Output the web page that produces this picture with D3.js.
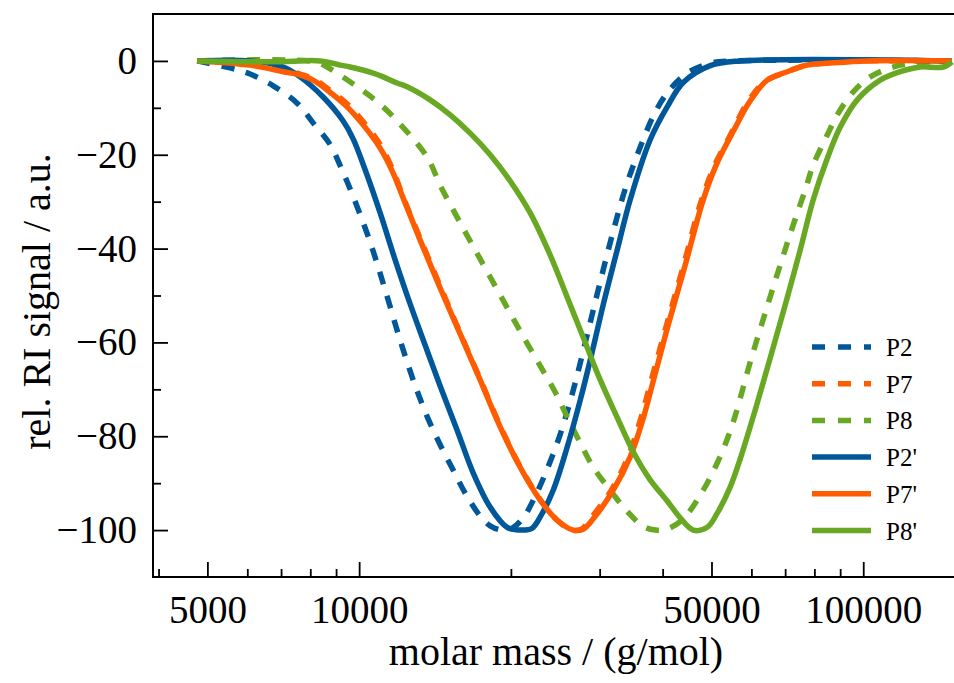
<!DOCTYPE html>
<html>
<head>
<meta charset="utf-8">
<script src="https://cdn.jsdelivr.net/npm/d3@7/dist/d3.min.js"></script>
<style>
  html, body { margin: 0; padding: 0; background: #fff; }
  svg { display: block; }
  text { font-family: "Liberation Serif", "Times New Roman", serif; fill: #000; }
</style>
</head>
<body>
<svg id="chart" width="954" height="683"></svg>
<script>
// ---- data: [molar mass (g/mol), rel. RI signal] ----
const P2 = [[4771,0],[5546,-1.5],[6077,-2.8],[6752,-5.3],[7534,-9.0],[8104,-13.2],[8759,-17.8],[9170,-22.3],[9730,-28.9],[10515,-38.6],[11261,-48.8],[12058,-59.5],[12917,-69.2],[13706,-76.3],[14478,-81.8],[15365,-87.2],[16229,-92.1],[17378,-97.0],[18193,-99.1],[19218,-100],[20117,-99.6],[21154,-97.4],[22349,-92.8],[23605,-87.0],[25054,-79.6],[26467,-71.0],[28087,-60.1],[29803,-48.8],[31769,-37.1],[33711,-27.3],[35286,-21.2],[36600,-16.8],[38309,-11.8],[40842,-6.8],[44752,-2.6],[49713,-0.5],[55231,0],[150000,0]];
const P7 = [[4771,0],[6077,-0.7],[7067,-2.0],[7637,-2.8],[8104,-3.8],[8640,-5.8],[9467,-9.2],[10373,-14.0],[11007,-17.8],[11680,-23.4],[12226,-29.0],[13213,-37.8],[14478,-48.0],[15863,-58.0],[17378,-67.8],[19044,-77.8],[20867,-86.5],[22865,-93.5],[24713,-97.9],[26400,-100],[27600,-99.8],[28900,-97.3],[31600,-91.6],[34100,-84.6],[36200,-76.2],[37900,-68.4],[40600,-56.8],[43900,-44.0],[47600,-30.2],[50700,-22.3],[54500,-15.8],[59000,-8.8],[63800,-4.4],[70000,-2.5],[76500,-1.0],[86000,-0.4],[100000,0],[150000,0]];
const P8 = [[4771,0],[8179,-0.2],[8640,-1.3],[9909,-5.5],[10857,-8.7],[11680,-11.9],[13643,-20.5],[14478,-26.5],[15863,-34.5],[17378,-42.2],[19044,-49.9],[20867,-57.6],[22865,-65.0],[24600,-71.0],[25869,-75.9],[27454,-81.4],[29132,-86.6],[31478,-91.5],[34018,-96.0],[36600,-99.2],[38660,-100],[40842,-99.8],[43944,-97.6],[48147,-91.5],[51330,-85.7],[53736,-80.6],[55731,-75.6],[59677,-64.2],[63907,-53.7],[68437,-43.5],[72611,-35.0],[76718,-27.5],[79574,-22.2],[84836,-15.8],[88806,-11.5],[95540,-6.6],[103248,-3.4],[118389,-0.9],[148800,0]];
const P2s = [[4771,0],[6077,0],[7067,-1.3],[7637,-3.4],[8484,-7.7],[9296,-12.8],[9730,-16.6],[10278,-23.2],[11007,-32.4],[11787,-42.4],[12622,-51.8],[13520,-60.6],[14478,-69.3],[15646,-78.7],[16833,-87.8],[18193,-95.1],[19663,-99.4],[21058,-100],[22045,-99.6],[22865,-97.2],[24263,-91.5],[25869,-82.3],[27454,-72.3],[28735,-63.8],[30490,-52.0],[32501,-40.3],[34490,-29.6],[37790,-16.8],[40842,-9.8],[43944,-4.6],[49713,-1.0],[57016,0],[150000,0]];
const P7s = [[4771,0],[6077,-0.9],[7067,-2.3],[7637,-3.0],[8104,-4.1],[8640,-6.2],[9467,-9.8],[10373,-14.7],[11007,-18.6],[11680,-23.9],[12226,-29.2],[13213,-38.2],[14478,-48.4],[15863,-58.2],[17378,-68.0],[19044,-78.0],[20867,-86.6],[22865,-93.6],[24713,-97.9],[26589,-100],[27826,-99.8],[29132,-97.6],[31915,-91.5],[34490,-84.4],[36600,-76.2],[38309,-68.3],[41030,-56.3],[44346,-43.5],[48147,-29.6],[51330,-21.7],[55231,-15.0],[59677,-8.5],[64493,-4.1],[70664,-2.3],[77426,-0.9],[87199,-0.4],[101838,0],[150000,0]];
const P8s = [[4771,0],[6752,-0.2],[8375,0],[9170,-0.9],[9597,-1.3],[10660,-2.6],[11158,-3.4],[11894,-4.7],[12451,-5.5],[13831,-8.3],[15156,-11.5],[16603,-15.4],[18193,-20.0],[19935,-25.6],[21844,-32.4],[23933,-41.4],[26228,-52.0],[28087,-60.0],[30079,-68.0],[32501,-76.0],[34969,-83.3],[37790,-89.3],[40842,-93.8],[43345,-97.4],[45998,-100],[49040,-99.4],[51330,-96.4],[54477,-90.8],[57016,-84.8],[61054,-74.4],[65385,-63.3],[70019,-52.0],[74989,-40.3],[79574,-29.6],[84836,-20.8],[90033,-14.1],[97294,-8.3],[108059,-4.1],[118389,-2.3],[129738,-1.3],[144124,-1.3],[150000,-0.2]];

const seriesNames = ["P2", "P7", "P8", "P2'", "P7'", "P8'"];
const seriesData = [P2, P7, P8, P2s, P7s, P8s];
const seriesDashed = [true, true, true, false, false, false];
const seriesColors = ["#00589A", "#FF5C00", "#69A823", "#00589A", "#FF5C00", "#69A823"];

const xDomain = [3900, 150000];
const yDomain = [-110, 10];
const xMajorTicks = [5000, 10000, 50000, 100000];
const xMinorTicks = [4000, 6000, 7000, 8000, 9000, 20000, 30000, 40000, 60000, 70000, 80000, 90000];
const yMajorTicks = [0, -20, -40, -60, -80, -100];
const yMinorTicks = [-10, -30, -50, -70, -90];
const xLabel = "molar mass / (g/mol)";
const yLabel = "rel. RI signal / a.u.";

// ---- layout ----
const L = 153, R = 952, T = 14, B = 577;
const svg = d3.select("#chart");
const x = d3.scaleLog().domain(xDomain).range([L, R]);
const y = d3.scaleLinear().domain(yDomain).range([B, T]);

svg.append("defs").append("clipPath").attr("id", "clip")
  .append("rect").attr("x", L).attr("y", T).attr("width", 954 - L).attr("height", B - T);

// curves
const line = d3.line().x(d => x(d[0])).y(d => y(Math.min(0, d[1]))).curve(d3.curveCatmullRom.alpha(0.5));
const g = svg.append("g").attr("clip-path", "url(#clip)");
seriesData.forEach((d, i) => {
  g.append("path").datum(d)
    .attr("d", line)
    .attr("fill", "none")
    .attr("stroke", seriesColors[i])
    .attr("stroke-width", 5.5)
    .attr("stroke-linejoin", "round")
    .attr("stroke-dasharray", seriesDashed[i] ? "13,12" : null);
});

// axes
const fmt = d => d < 0 ? "\u2212" + Math.abs(d) : String(d);
const xAxisMajor = svg.append("g").attr("transform", `translate(0,${B})`)
  .call(d3.axisBottom(x).tickValues(xMajorTicks).tickFormat(d => String(d)).tickSizeInner(-15).tickSizeOuter(0).tickPadding(18));
const xAxisMinor = svg.append("g").attr("transform", `translate(0,${B})`)
  .call(d3.axisBottom(x).tickValues(xMinorTicks).tickFormat("").tickSizeInner(-8).tickSizeOuter(0));
const yAxisMajor = svg.append("g").attr("transform", `translate(${L},0)`)
  .call(d3.axisLeft(y).tickValues(yMajorTicks).tickFormat(fmt).tickSizeInner(-15).tickSizeOuter(0).tickPadding(16));
const yAxisMinor = svg.append("g").attr("transform", `translate(${L},0)`)
  .call(d3.axisLeft(y).tickValues(yMinorTicks).tickFormat("").tickSizeInner(-8).tickSizeOuter(0));

[xAxisMajor, xAxisMinor, yAxisMajor, yAxisMinor].forEach(a => {
  a.select(".domain").remove();
  a.selectAll(".tick line").attr("stroke", "#000").attr("stroke-width", 1.8);
  a.selectAll(".tick text").style("font-family", '"Liberation Serif", serif').style("font-size", "39px").attr("fill", "#000");
});

// spines
svg.append("path")
  .attr("d", `M954,${T}H${L}V${B}H954`)
  .attr("fill", "none").attr("stroke", "#000").attr("stroke-width", 2);

// axis labels
svg.append("text").attr("x", 556).attr("y", 665).attr("text-anchor", "middle")
  .style("font-size", "40px").text(xLabel);
svg.append("text").attr("transform", `translate(50,${(T + B) / 2 + 6}) rotate(-90)`)
  .attr("text-anchor", "middle").style("font-size", "40px").text(yLabel);

// legend
const leg = svg.append("g");
seriesNames.forEach((name, i) => {
  const ly = 347 + i * 36.7;
  leg.append("line").attr("x1", 812).attr("x2", 871).attr("y1", ly).attr("y2", ly)
    .attr("stroke", seriesColors[i]).attr("stroke-width", 5.5)
    .attr("stroke-dasharray", seriesDashed[i] ? "13,13" : null);
  leg.append("text").attr("x", 886).attr("y", ly + 9).style("font-size", "25px").text(name);
});
</script>
</body>
</html>
